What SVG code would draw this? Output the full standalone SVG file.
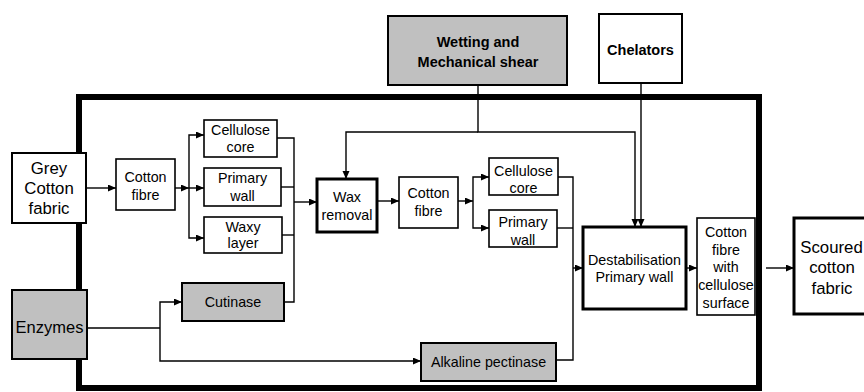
<svg xmlns="http://www.w3.org/2000/svg" width="864" height="392" viewBox="0 0 864 392">
<style>
.box{fill:#fff;stroke:#000;stroke-width:1.6}
.gbox{fill:#c0c0c0;stroke:#000;stroke-width:2}
.tbox{fill:#fff;stroke:#000;stroke-width:3}
.mbox{fill:#fff;stroke:#000;stroke-width:2}
text{font-family:"Liberation Sans",Arial,sans-serif;font-size:14.3px;text-anchor:middle;fill:#000}
.b{font-weight:bold;font-size:14.5px}
.big{font-size:16.8px}
.enz{font-size:16.5px}
.c{fill:none;stroke:#000;stroke-width:1.4}
</style>
<defs>
<marker id="ah" markerUnits="userSpaceOnUse" markerWidth="9" markerHeight="8" refX="8" refY="3.5" orient="auto">
<path d="M0,0 L8,3.5 L0,7 z" fill="#000"/>
</marker>
</defs>
<rect id="frame" x="79" y="97" width="680" height="291" fill="none" stroke="#000" stroke-width="6"/>
<g id="connectors">
<path class="c" d="M478,85 V132 H635 V227" marker-end="url(#ah)"/>
<path class="c" d="M478,132 H346 V179" marker-end="url(#ah)"/>
<path class="c" d="M641,83 V227" marker-end="url(#ah)"/>
<path class="c" d="M86,188 H116" marker-end="url(#ah)"/>
<path class="c" d="M175,188 H189" marker-end="url(#ah)"/>
<path class="c" d="M189,188 H204" marker-end="url(#ah)"/>
<path class="c" d="M189,188 V135 H204" marker-end="url(#ah)"/>
<path class="c" d="M189,188 V238 H204" marker-end="url(#ah)"/>
<path class="c" d="M277,138 H294 V302 H284"/>
<path class="c" d="M281,187 H294"/>
<path class="c" d="M282,235 H294"/>
<path class="c" d="M294,202 H317" marker-end="url(#ah)"/>
<path class="c" d="M377,201 H399" marker-end="url(#ah)"/>
<path class="c" d="M458,201 H473" marker-end="url(#ah)"/>
<path class="c" d="M473,201 V177 H489" marker-end="url(#ah)"/>
<path class="c" d="M473,201 V228 H489" marker-end="url(#ah)"/>
<path class="c" d="M558,177 H573 V360 H556"/>
<path class="c" d="M557,228 H573"/>
<path class="c" d="M573,268 H583" marker-end="url(#ah)"/>
<path class="c" d="M686,268 H697" marker-end="url(#ah)"/>
<path class="c" d="M766,268 H794" marker-end="url(#ah)"/>
<path class="c" d="M87,328 H160"/>
<path class="c" d="M160,328 V302 H182" marker-end="url(#ah)"/>
<path class="c" d="M160,328 V361 H421" marker-end="url(#ah)"/>
</g>
<g id="wetting"><rect class="gbox" x="388" y="16" width="179" height="69"/><text class="b" x="478" y="47">Wetting and</text><text class="b" x="478" y="67">Mechanical shear</text></g>
<g id="chelators"><rect class="mbox" x="599" y="14" width="83" height="69"/><text class="b" x="640.5" y="55">Chelators</text></g>
<g id="grey"><rect class="mbox" x="12" y="153" width="74" height="70"/><text class="big" x="49" y="174">Grey</text><text class="big" x="49" y="194">Cotton</text><text class="big" x="49" y="214">fabric</text></g>
<g id="enzymes"><rect class="gbox" x="12" y="290" width="75" height="69"/><text class="enz" x="49.5" y="333">Enzymes</text></g>
<g id="cottonfibre1"><rect class="box" x="116" y="159" width="59" height="51"/><text x="145.5" y="182">Cotton</text><text x="145.5" y="200">fibre</text></g>
<g id="cellcore1"><rect class="box" x="204" y="120" width="73" height="37"/><text x="240.5" y="135">Cellulose</text><text x="240.5" y="152">core</text></g>
<g id="primwall1"><rect class="box" x="204" y="168" width="77" height="38"/><text x="242.5" y="183">Primary</text><text x="242.5" y="201">wall</text></g>
<g id="waxy"><rect class="box" x="204" y="217" width="78" height="36"/><text x="243" y="232">Waxy</text><text x="243" y="248">layer</text></g>
<g id="cutinase"><rect class="gbox" x="182" y="283" width="102" height="38"/><text x="233" y="307">Cutinase</text></g>
<g id="waxremoval"><rect class="tbox" x="317" y="179" width="60" height="53"/><text x="347" y="202">Wax</text><text x="347" y="220">removal</text></g>
<g id="cottonfibre2"><rect class="box" x="399" y="177" width="59" height="51"/><text x="428.5" y="198">Cotton</text><text x="428.5" y="216">fibre</text></g>
<g id="cellcore2"><rect class="box" x="489" y="158" width="69" height="37"/><text x="523.5" y="176">Cellulose</text><text x="523.5" y="193">core</text></g>
<g id="primwall2"><rect class="box" x="489" y="210" width="68" height="37"/><text x="523" y="227">Primary</text><text x="523" y="245">wall</text></g>
<g id="alkaline"><rect class="gbox" x="421" y="343" width="135" height="38"/><text x="488.5" y="367">Alkaline pectinase</text></g>
<g id="destab"><rect class="tbox" x="583" y="227" width="103" height="82"/><text x="634.5" y="265">Destabilisation</text><text x="634.5" y="282">Primary wall</text></g>
<g id="cellsurface"><rect class="box" x="697" y="218" width="58" height="97"/><text x="726" y="237">Cotton</text><text x="726" y="255">fibre</text><text x="726" y="272">with</text><text x="726" y="290">cellulose</text><text x="726" y="308">surface</text></g>
<g id="scoured"><rect class="tbox" x="794" y="218" width="80" height="96"/><text class="big" x="831.5" y="253">Scoured</text><text class="big" x="832" y="273">cotton</text><text class="big" x="832" y="294">fabric</text></g>
</svg>
